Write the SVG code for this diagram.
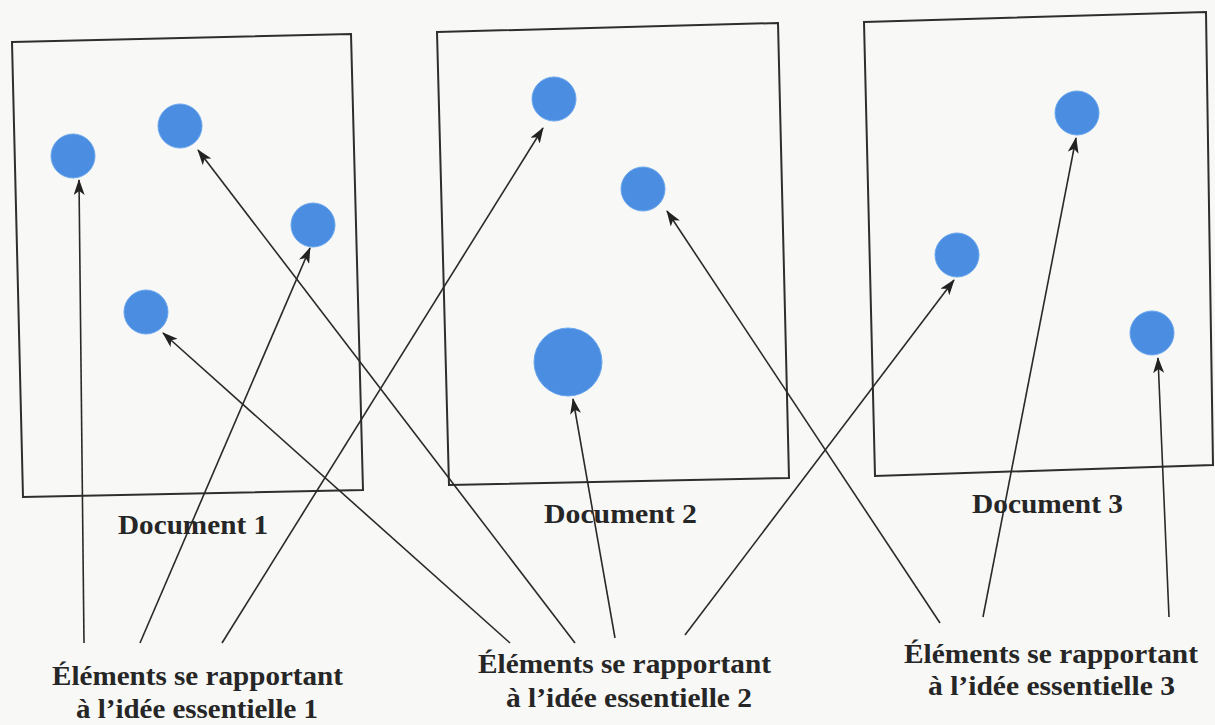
<svg xmlns="http://www.w3.org/2000/svg" width="1215" height="725" viewBox="0 0 1215 725">
<defs>
<style>
.doc{fill:none;stroke:#2e2e2e;stroke-width:2}
.dot{fill:#4b8de0;stroke:#6aa6ee;stroke-width:1}
.lbl{font-family:"Liberation Serif","Times New Roman",serif;font-weight:bold;fill:#262626}
.con{stroke:#2a2a2a;stroke-width:1.6;fill:none;marker-end:url(#ah)}
</style>
<marker id="ah" markerUnits="userSpaceOnUse" markerWidth="16" markerHeight="11" refX="15" refY="5.5" orient="auto">
<path d="M0,0 L16,5.5 L0,11 L4,5.5 z" fill="#222"/>
</marker>
</defs>
<rect width="1215" height="725" fill="#f8f8f6"/>
<g id="document1">
<polygon class="doc" points="12,42 351,34 363,490 23,497"/>
<circle class="dot" cx="73" cy="156" r="22"/>
<circle class="dot" cx="180" cy="126" r="22"/>
<circle class="dot" cx="313" cy="225" r="22"/>
<circle class="dot" cx="146" cy="312" r="22"/>
<text class="lbl" x="118" y="534" font-size="27" textLength="150" lengthAdjust="spacingAndGlyphs">Document 1</text>
</g>
<g id="document2">
<polygon class="doc" points="437,32 778,23 789,478 449,485"/>
<circle class="dot" cx="554" cy="99" r="22"/>
<circle class="dot" cx="643" cy="189" r="22"/>
<circle class="dot" cx="568" cy="362" r="34"/>
<text class="lbl" x="544" y="523" font-size="27" textLength="153" lengthAdjust="spacingAndGlyphs">Document 2</text>
</g>
<g id="document3">
<polygon class="doc" points="864,22 1206,12 1213,465 875,476"/>
<circle class="dot" cx="1077" cy="113" r="22"/>
<circle class="dot" cx="957" cy="255" r="22"/>
<circle class="dot" cx="1152" cy="333" r="22"/>
<text class="lbl" x="972" y="513" font-size="27" textLength="151" lengthAdjust="spacingAndGlyphs">Document 3</text>
</g>
<g id="idea1">
<text class="lbl" x="52" y="685" font-size="28" textLength="291" lengthAdjust="spacingAndGlyphs">Éléments se rapportant</text>
<text class="lbl" x="76" y="718" font-size="28" textLength="242" lengthAdjust="spacingAndGlyphs">à l’idée essentielle 1</text>
</g>
<g id="idea2">
<text class="lbl" x="478" y="673" font-size="28" textLength="293" lengthAdjust="spacingAndGlyphs">Éléments se rapportant</text>
<text class="lbl" x="506" y="707" font-size="28" textLength="246" lengthAdjust="spacingAndGlyphs">à l’idée essentielle 2</text>
</g>
<g id="idea3">
<text class="lbl" x="904" y="663" font-size="28" textLength="294" lengthAdjust="spacingAndGlyphs">Éléments se rapportant</text>
<text class="lbl" x="928" y="695" font-size="28" textLength="247" lengthAdjust="spacingAndGlyphs">à l’idée essentielle 3</text>
</g>
<g id="connectors">
<line class="con" x1="84" y1="643" x2="79" y2="180"/>
<line class="con" x1="140" y1="643" x2="310" y2="248"/>
<line class="con" x1="222" y1="643" x2="543" y2="128"/>
<line class="con" x1="510" y1="643" x2="163" y2="333"/>
<line class="con" x1="575" y1="643" x2="198" y2="150"/>
<line class="con" x1="615" y1="638" x2="573" y2="399"/>
<line class="con" x1="685" y1="635" x2="954" y2="280"/>
<line class="con" x1="940" y1="623" x2="667" y2="211"/>
<line class="con" x1="983" y1="617" x2="1076" y2="138"/>
<line class="con" x1="1169" y1="617" x2="1158" y2="358"/>
</g>
</svg>
